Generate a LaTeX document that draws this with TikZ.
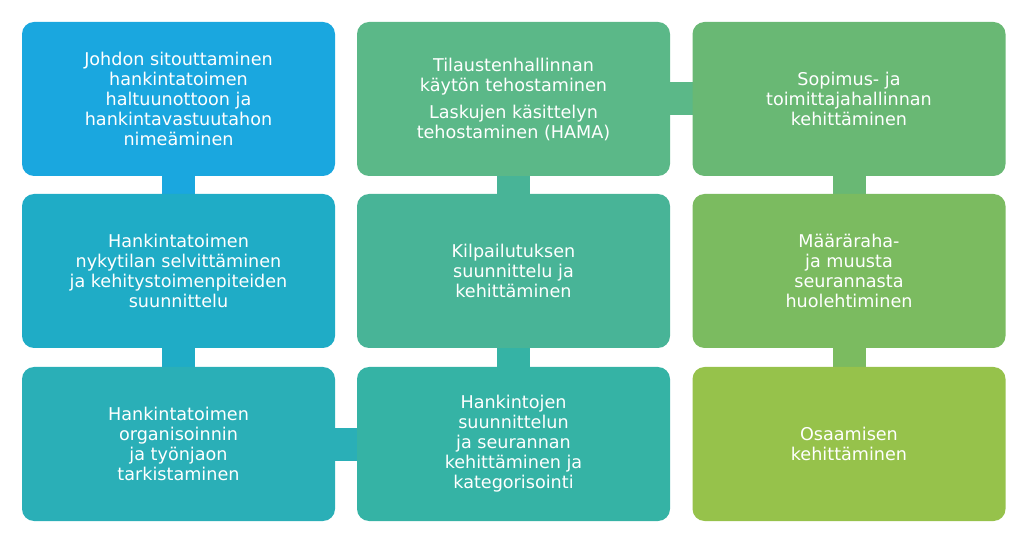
\documentclass[tikz,border=0pt]{standalone}
\usepackage{fontspec}
\setmainfont{DejaVu Sans}
\usetikzlibrary{backgrounds}
\definecolor{cA}{HTML}{1AA7DF}
\definecolor{cB}{HTML}{1FACC6}
\definecolor{cC}{HTML}{2AAFB7}
\definecolor{cD}{HTML}{35B3A5}
\definecolor{cE}{HTML}{48B497}
\definecolor{cF}{HTML}{5BB888}
\definecolor{cG}{HTML}{69B874}
\definecolor{cH}{HTML}{7BBB60}
\definecolor{cI}{HTML}{96C24B}
\tikzset{
  box/.style={rectangle, rounded corners=12pt, minimum width=313pt, minimum height=154pt,
    inner sep=0pt, text=white, align=center, font=\fontsize{17.6pt}{20pt}\selectfont},
  link/.style={line width=33pt}
}
\begin{document}
\begin{tikzpicture}[x=1pt,y=-1pt]
\useasboundingbox (0,0) rectangle (1034,545);
\node[box, fill=cA] (a) at (178.5,99) {Johdon sitouttaminen\\hankintatoimen\\haltuunottoon ja\\hankintavastuutahon\\nimeäminen};
\node[box, fill=cB] (b) at (178.5,271) {Hankintatoimen\\nykytilan selvittäminen\\ja kehitystoimenpiteiden\\suunnittelu};
\node[box, fill=cC] (c) at (178.5,444) {Hankintatoimen\\organisoinnin\\ja työnjaon\\tarkistaminen};
\node[box, fill=cD] (d) at (513.5,444) {Hankintojen\\suunnittelun\\ja seurannan\\kehittäminen ja\\kategorisointi};
\node[box, fill=cE] (e) at (513.5,271) {Kilpailutuksen\\suunnittelu ja\\kehittäminen};
\node[box, fill=cF] (f) at (513.5,99) {Tilaustenhallinnan\\käytön tehostaminen\\[7pt]Laskujen käsittelyn\\tehostaminen (HAMA)};
\node[box, fill=cG] (g) at (849,99) {Sopimus- ja\\toimittajahallinnan\\kehittäminen};
\node[box, fill=cH] (h) at (849,271) {Määräraha-\\ja muusta\\seurannasta\\huolehtiminen};
\node[box, fill=cI] (i) at (849,444) {Osaamisen\\kehittäminen};
\begin{pgfonlayer}{background}
\draw[link, cA] (a.center) -- (b.center);
\draw[link, cB] (b.center) -- (c.center);
\draw[link, cC] (c.center) -- (d.center);
\draw[link, cD] (d.center) -- (e.center);
\draw[link, cE] (e.center) -- (f.center);
\draw[link, cF] (f.center) -- (g.center);
\draw[link, cG] (g.center) -- (h.center);
\draw[link, cH] (h.center) -- (i.center);
\end{pgfonlayer}
\end{tikzpicture}
\end{document}
